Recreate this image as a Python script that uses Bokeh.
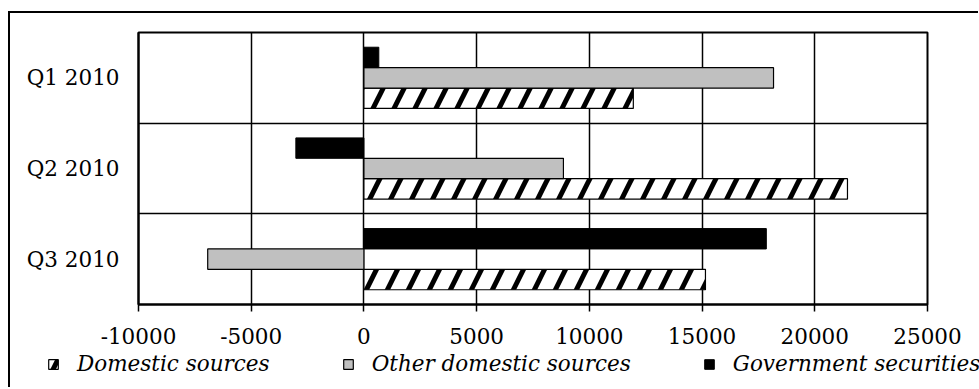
from bokeh.plotting import figure
from bokeh.models import (FactorRange, Range1d, FixedTicker, Legend, LegendItem,
                          ColumnDataSource)
from bokeh.transform import dodge
from bokeh.embed import file_html
from bokeh.resources import INLINE

# Quarterly financing, in millions
quarters = ["Q1 2010", "Q2 2010", "Q3 2010"]
domestic_sources = [11950, 21450, 15150]
other_domestic = [18170, 8850, -6930]
government_securities = [660, -3020, 17850]
x_ticks = [-10000, -5000, 0, 5000, 10000, 15000, 20000, 25000]
series_names = ["Domestic sources", "Other domestic sources", "Government securities"]

source = ColumnDataSource(dict(
    quarter=quarters,
    domestic=domestic_sources,
    other=other_domestic,
    govt=government_securities,
))

FONT = "DejaVu Serif"
FS = "21.5px"

# shared bar styles
hatched = dict(fill_color="white", line_color="black", line_width=1.2,
               hatch_pattern="/", hatch_color="black", hatch_scale=42, hatch_weight=5)
grey = dict(fill_color="#c0c0c0", line_color="black", line_width=1.2)
solid = dict(fill_color="black", line_color="black", line_width=1)

p = figure(
    width=970, height=335,
    y_range=FactorRange(factors=list(reversed(quarters)), range_padding=0),
    x_range=Range1d(-10000, 25000),
    output_backend="svg", toolbar_location=None,
    min_border_left=128, min_border_right=53, min_border_top=19,
    min_border_bottom=44,
)
p.styles = {"border-left": "2px solid black", "border-top": "2px solid black",
            "margin-left": "8px", "margin-top": "11px", "vertical-align": "top"}
p.background_fill_color = "white"
p.border_fill_color = "white"
p.outline_line_color = "black"
p.outline_line_width = 2

bar_h = 0.225
p.hbar(y=dodge("quarter", -bar_h, range=p.y_range), right="domestic", left=0,
       height=bar_h, source=source, **hatched)
p.hbar(y=dodge("quarter", 0, range=p.y_range), right="other", left=0,
       height=bar_h, source=source, **grey)
p.hbar(y=dodge("quarter", bar_h, range=p.y_range), right="govt", left=0,
       height=bar_h, source=source, **solid)

# x axis
p.xaxis.ticker = FixedTicker(ticks=x_ticks)
p.xaxis.major_label_overrides = {t: str(t) for t in x_ticks}
p.xaxis.minor_tick_line_color = None
p.xaxis.major_tick_in = 0
p.xaxis.major_tick_out = 7
p.xaxis.major_tick_line_color = "black"
p.xaxis.major_tick_line_width = 1.5
p.xaxis.axis_line_color = "black"
p.xaxis.axis_line_width = 2
p.xaxis.major_label_standoff = 16
p.xaxis.major_label_text_font = FONT
p.xaxis.major_label_text_font_size = FS
p.xaxis.major_label_text_color = "black"

# y axis
p.yaxis.major_tick_line_color = None
p.yaxis.minor_tick_line_color = None
p.yaxis.major_tick_out = 0
p.yaxis.major_tick_in = 0
p.yaxis.axis_line_color = "black"
p.yaxis.axis_line_width = 2
p.yaxis.major_label_standoff = 19
p.yaxis.major_label_text_font = FONT
p.yaxis.major_label_text_font_size = FS
p.yaxis.major_label_text_color = "black"

# grid: vertical lines at every tick, horizontal lines between quarters
p.xgrid.ticker = FixedTicker(ticks=x_ticks)
p.xgrid.grid_line_color = "black"
p.xgrid.grid_line_width = 1.5
p.ygrid.ticker = FixedTicker(ticks=[1, 2])
p.ygrid.grid_line_color = "black"
p.ygrid.grid_line_width = 1.5

# legend strip below the chart, spanning the full width
q = figure(
    width=970, height=41,
    x_range=Range1d(0, 1), y_range=Range1d(0, 1),
    x_axis_location=None, y_axis_location=None,
    output_backend="svg", toolbar_location=None,
    min_border=0,
)
q.styles = {"border-left": "2px solid black", "margin-left": "8px", "display": "block"}
q.outline_line_color = None
q.grid.grid_line_color = None
q.background_fill_color = "white"
q.border_fill_color = "white"
# legend keys: one bar per style, parked outside the strip's visible range
keys = [q.hbar(y=[5], right=[1], left=[0], height=0.2, **style)
        for style in (hatched, grey, solid)]

legend = Legend(
    items=[LegendItem(label=name, renderers=[r]) for name, r in zip(series_names, keys)],
    orientation="horizontal",
    location=(37, 11),
    label_text_font=FONT,
    label_text_font_style="italic",
    label_text_font_size=FS,
    label_text_color="black",
    glyph_width=12, glyph_height=12,
    label_standoff=18, spacing=72,
    padding=0, margin=0,
    border_line_color=None,
    background_fill_alpha=0,
)
q.add_layout(legend, "center")

open("out.html", "w").write(file_html([p, q], INLINE))
